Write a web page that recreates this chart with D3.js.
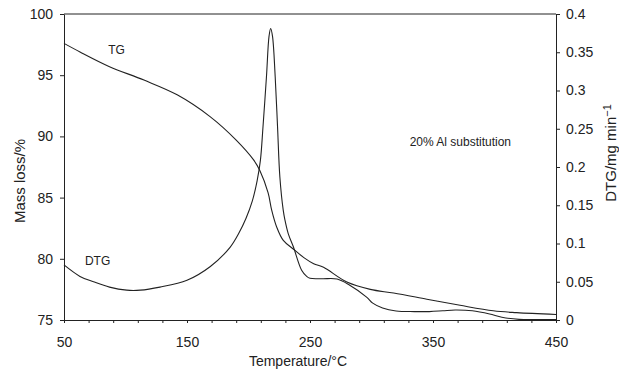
<!DOCTYPE html>
<html>
<head>
<meta charset="utf-8">
<script src="https://cdn.jsdelivr.net/npm/d3@7"></script>
<style>
  body { margin: 0; background: #fff; }
  text { font-family: "Liberation Sans", Arial, sans-serif; fill: #222; }
  .axis path, .axis line { stroke: #222; stroke-width: 1; }
  .axis text { font-size: 14px; }
  .line { fill: none; stroke: #222; stroke-width: 1.1; }
</style>
</head>
<body>
<div id="chart"></div>
<script>
// temperatures (deg C) and TG mass (%)
var tempTG = [50, 63, 87, 115, 142, 169, 190, 204, 209.3, 215.9, 218.8, 222.9, 228.3, 236.4, 245, 253, 261, 280, 299, 318, 345, 372, 399, 418, 450];
var tgMass = [97.6, 96.9, 95.7, 94.6, 93.4, 91.6, 89.7, 88.1, 87.2, 85.4, 84.0, 82.6, 81.5, 80.8, 80.1, 79.6, 79.3, 78.1, 77.5, 77.2, 76.7, 76.2, 75.75, 75.6, 75.45];

// DTG (mg/min) on the right axis
var tempDTG = [50, 63, 74, 87, 101, 112, 128, 150, 169, 185, 192, 198, 203, 207, 209.7, 211.8, 214.6, 216.7, 218, 219.5, 221.7, 223.6, 225.5, 228.2, 229.6, 232.3, 236.4, 243.2, 247.3, 250, 260, 272, 282, 296, 301, 309, 320, 335, 347, 358, 368, 382, 396, 406, 420, 435, 450];
var dtgRate = [0.072, 0.057, 0.050, 0.043, 0.039, 0.039, 0.043, 0.052, 0.070, 0.095, 0.113, 0.133, 0.155, 0.182, 0.209, 0.253, 0.318, 0.371, 0.381, 0.371, 0.318, 0.253, 0.187, 0.144, 0.131, 0.113, 0.096, 0.065, 0.057, 0.0545, 0.054, 0.0536, 0.0458, 0.030, 0.022, 0.0157, 0.0118, 0.011, 0.011, 0.012, 0.013, 0.012, 0.0078, 0.0035, 0.0008, 0.0005, 0.0005];

// tick labels
var xTicksMajor = [50, 150, 250, 350, 450];
var xTicksMinor = d3.range(50, 451, 20);
var yLeftTicks = [75, 80, 85, 90, 95, 100];
var yRightTicks = [0, 0.05, 0.1, 0.15, 0.2, 0.25, 0.3, 0.35, 0.4];

var margin = {top: 14, right: 63, bottom: 54, left: 64},
    width = 619 - margin.left - margin.right,
    height = 374 - margin.top - margin.bottom;

var svg = d3.select("#chart").append("svg")
    .attr("width", 619)
    .attr("height", 374)
  .append("g")
    .attr("transform", "translate(" + margin.left + "," + margin.top + ")");

// scales
var xScale = d3.scaleLinear().domain([50, 450]).range([0, width]);
var yLeft = d3.scaleLinear().domain([75, 100]).range([height, 0]);
var yRight = d3.scaleLinear().domain([0, 0.4]).range([height, 0]);

// frame top line
svg.append("line")
   .attr("x1", 0).attr("x2", width)
   .attr("y1", 0).attr("y2", 0)
   .attr("stroke", "#222");

// x axis: minor ticks every 20, labels at 50,150,...
svg.append("g")
   .attr("class", "x axis")
   .attr("transform", "translate(0," + height + ")")
   .call(d3.axisBottom(xScale).tickValues(xTicksMinor).tickSize(3).tickSizeOuter(0)
         .tickFormat(function(d) { return xTicksMajor.indexOf(d) >= 0 ? d : ""; }))
   .selectAll("text").attr("dy", "1.5em");

// left axis
svg.append("g")
   .attr("class", "y axis")
   .call(d3.axisLeft(yLeft).tickValues(yLeftTicks).tickSize(4).tickSizeOuter(0).tickPadding(7));

// right axis
svg.append("g")
   .attr("class", "y axis")
   .attr("transform", "translate(" + width + ",0)")
   .call(d3.axisRight(yRight).tickValues(yRightTicks).tickSize(4).tickSizeOuter(0).tickPadding(6)
         .tickFormat(function(d) { return String(+d.toFixed(2)); }));

// curves
var tgLine = d3.line()
   .x(function(d, i) { return xScale(tempTG[i]); })
   .y(function(d) { return yLeft(d); })
   .curve(d3.curveCatmullRom.alpha(0.5));

var dtgLine = d3.line()
   .x(function(d, i) { return xScale(tempDTG[i]); })
   .y(function(d) { return yRight(d); })
   .curve(d3.curveCatmullRom.alpha(0.5));

svg.append("path").attr("class", "line").attr("d", tgLine(tgMass));
svg.append("path").attr("class", "line").attr("d", dtgLine(dtgRate));

// labels on the curves
svg.append("text").attr("x", xScale(86)).attr("y", yLeft(96.7))
   .style("font-size", "12px").text("TG");
svg.append("text").attr("x", xScale(67)).attr("y", yLeft(79.5))
   .style("font-size", "12px").text("DTG");
svg.append("text").attr("x", xScale(331)).attr("y", yLeft(89.2))
   .style("font-size", "12px").text("20% Al substitution");

// axis titles
svg.append("text")
   .attr("text-anchor", "middle")
   .attr("x", width / 2 - 12)
   .attr("y", height + 46)
   .style("font-size", "14px")
   .text("Temperature/\u00b0C");

svg.append("text")
   .attr("text-anchor", "middle")
   .attr("transform", "translate(" + (-margin.left + 25) + "," + (height / 2 + 14) + ")rotate(-90)")
   .style("font-size", "15px")
   .text("Mass loss/%");

var rt = svg.append("text")
   .attr("text-anchor", "middle")
   .attr("transform", "translate(" + (width + 60) + "," + (height / 2 - 14) + ")rotate(-90)")
   .style("font-size", "15px");
rt.append("tspan").text("DTG/mg min");
rt.append("tspan").attr("dy", "-0.5em").style("font-size", "11px").text("\u22121");
</script>
</body>
</html>
